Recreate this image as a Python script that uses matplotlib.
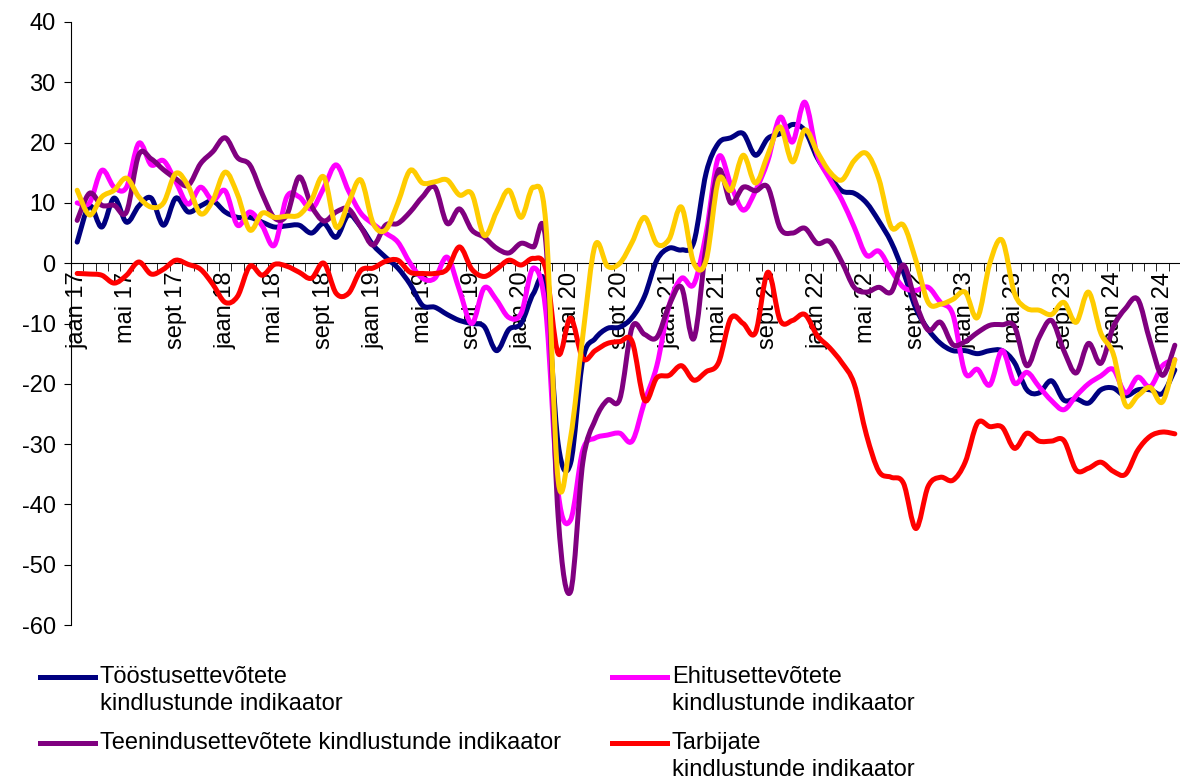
import numpy as np
import matplotlib
matplotlib.use("Agg")
import matplotlib.pyplot as plt
from matplotlib.lines import Line2D
from matplotlib.path import Path
from matplotlib.patches import PathPatch

plt.rcParams['font.family'] = ['Liberation Sans', 'DejaVu Sans']
plt.rcParams['axes.unicode_minus'] = False

# monthly values, jaan 17 .. juuni 24
toostus = [3.5, 9.5, 6.0, 10.8, 6.8, 9.5, 10.8, 6.3, 10.8, 8.5,
           9.5, 10.3, 8.5, 7.6, 7.6, 6.8, 6.0, 6.2, 6.3, 5.0,
           6.6, 4.3, 8.0, 6.0, 3.0, 1.0, -0.8, -3.5, -7.0, -7.3,
           -8.5, -9.5, -10.0, -10.5, -14.5, -11.0, -10.0, -5.0, -4.0, -30.0,
           -33.2, -16.0, -12.5, -10.8, -10.6, -9.0, -5.5, 0.5, 2.5, 2.2,
           3.5, 15.0, 19.9, 20.8, 21.5, 17.9, 20.7, 21.5, 23.0, 22.0,
           17.5, 14.5, 12.0, 11.6, 10.0, 7.0, 3.5, -1.5, -7.5, -11.0,
           -13.3, -14.5, -14.5, -15.0, -14.5, -14.5, -16.5, -21.0, -21.5, -19.5,
           -22.7, -22.5, -23.2, -21.0, -20.7, -22.0, -21.0, -21.0, -21.6, -17.7]

ehitus = [10.0, 10.0, 15.4, 12.6, 12.6, 19.9, 16.3, 17.0, 13.5, 9.8,
          12.6, 10.4, 12.0, 6.3, 8.5, 6.2, 3.0, 11.0, 11.0, 9.0,
          12.5, 16.3, 12.0, 8.3, 6.5, 5.0, 3.5, 0.0, -2.5, -2.5,
          1.0, -4.5, -10.0, -4.1, -6.1, -9.0, -8.3, -0.8, -8.0, -38.0,
          -42.6, -31.0, -29.0, -28.5, -28.2, -29.5, -23.0, -17.0, -7.0, -2.5,
          -3.5, 5.0, 17.6, 13.0, 8.8, 12.0, 17.0, 24.2, 20.1, 26.7,
          18.0, 14.0, 10.5, 6.0, 1.3, 2.0, -1.2, -4.0, -4.5, -4.0,
          -6.5, -8.5, -18.2, -17.6, -20.2, -14.5, -19.9, -18.1, -20.5, -22.8,
          -24.3, -22.0, -20.0, -18.7, -17.6, -21.5, -18.9, -20.5, -17.0, -16.0]

teenindus = [7.1, 11.6, 9.6, 9.6, 8.5, 18.0, 17.3, 15.5, 14.0, 12.9,
             16.5, 18.5, 20.8, 17.5, 16.3, 11.5, 7.5, 8.0, 14.3, 9.5,
             7.0, 8.5, 9.0, 6.0, 3.0, 6.3, 6.6, 8.5, 11.0, 12.6,
             6.6, 9.0, 5.5, 4.3, 2.5, 1.7, 3.3, 2.7, 3.5, -42.0,
             -54.5, -33.0, -26.0, -22.7, -22.5, -10.6, -11.8, -12.3, -7.0, -4.0,
             -12.5, 3.0, 15.4, 10.0, 12.6, 12.0, 12.6, 5.8, 5.0, 5.8,
             3.3, 3.6, 0.2, -4.0, -4.8, -4.0, -4.8, -0.3, -6.6, -11.1,
             -9.8, -13.5, -13.0, -11.5, -10.3, -10.2, -10.5, -17.0, -12.3, -9.5,
             -14.5, -18.2, -13.3, -16.6, -10.6, -7.5, -6.0, -13.0, -18.6, -13.6]

tarbijad = [-1.7, -1.8, -2.0, -3.3, -2.0, 0.2, -1.8, -1.0, 0.5, -0.2,
            -1.0, -3.5, -6.5, -5.5, -0.5, -2.0, -0.2, -0.5, -1.5, -2.5,
            0.0, -5.0, -5.0, -1.2, -0.8, 0.3, 0.5, -1.5, -1.7, -1.7,
            -1.0, 2.7, -1.0, -2.2, -1.0, 0.5, -0.3, 0.8, -1.0, -15.0,
            -9.1, -15.8, -14.5, -13.3, -13.0, -13.0, -22.7, -19.0, -18.6, -17.0,
            -19.4, -18.0, -16.5, -9.1, -10.0, -11.5, -1.5, -9.5, -9.5, -8.5,
            -12.0, -14.0, -16.5, -20.0, -28.5, -34.5, -35.5, -36.5, -44.0, -37.0,
            -35.5, -36.0, -33.0, -26.5, -27.1, -27.2, -30.7, -28.2, -29.5, -29.5,
            -29.4, -34.3, -34.0, -33.0, -34.5, -35.0, -31.0, -28.7, -28.0, -28.3]

kollane = [12.1, 8.0, 11.0, 12.1, 14.1, 11.0, 9.3, 10.0, 14.9, 12.8,
           8.2, 10.4, 15.1, 11.4, 5.5, 8.3, 7.6, 7.8, 8.0, 10.5,
           14.3, 6.0, 10.0, 13.8, 6.6, 5.5, 10.0, 15.4, 13.3, 13.5,
           13.8, 11.3, 11.5, 4.6, 8.5, 12.1, 7.6, 12.6, 6.6, -36.0,
           -29.0, -12.0, 3.0, -0.5, 0.0, 3.5, 7.6, 3.2, 4.0, 9.3,
           0.0, 0.5, 13.8, 12.1, 17.9, 13.3, 18.0, 22.6, 16.8, 22.1,
           18.5, 15.2, 13.8, 17.0, 18.2, 14.0, 6.0, 6.3, 0.5, -6.5,
           -6.8, -6.0, -4.8, -9.0, 0.0, 3.8, -5.0, -7.5, -7.8, -8.5,
           -6.5, -9.8, -4.8, -11.6, -15.0, -23.5, -22.0, -20.6, -23.0, -16.0]

tick_labels = ['jaan 17', 'mai 17', 'sept 17', 'jaan 18', 'mai 18', 'sept 18',
               'jaan 19', 'mai 19', 'sept 19', 'jaan 20', 'mai 20', 'sept 20',
               'jaan 21', 'mai 21', 'sept 21', 'jaan 22', 'mai 22', 'sept 22',
               'jaan 23', 'mai 23', 'sept 23', 'jaan 24', 'mai 24']

legend_labels = ['Tööstusettevõtete\nkindlustunde indikaator',
                 'Ehitusettevõtete\nkindlustunde indikaator',
                 'Teenindusettevõtete kindlustunde indikaator',
                 'Tarbijate\nkindlustunde indikaator']

series = [toostus, ehitus, teenindus, tarbijad, kollane]
colors = ['#000080', '#FF00FF', '#800080', '#FF0000', '#FFCC00']


def smooth_path(xs, ys):
    # smoothed line like Excel: cubic Bezier segments through every point
    p = np.column_stack([xs, ys]).astype(float)
    ext = np.vstack([p[0], p, p[-1]])
    verts = [p[0]]
    codes = [Path.MOVETO]
    for i in range(len(p) - 1):
        c1 = ext[i + 1] + (ext[i + 2] - ext[i]) / 6
        c2 = ext[i + 2] - (ext[i + 3] - ext[i + 1]) / 6
        verts += [c1, c2, p[i + 1]]
        codes += [Path.CURVE4] * 3
    return Path(verts, codes)


W, H = 1180, 782
fig = plt.figure(figsize=(W / 100, H / 100), dpi=100)
ax = fig.add_axes([71 / W, 157 / H, 1110 / W, 603 / H])

x = np.arange(len(toostus))
for vals, c in zip(series, colors):
    ax.add_patch(PathPatch(smooth_path(x, vals), fill=False, edgecolor=c,
                           lw=3.6, joinstyle='round', capstyle='round', zorder=3))

ax.set_xlim(-0.5, len(x) - 0.5)
ax.set_ylim(-60, 40)
ax.set_yticks(range(-60, 41, 10))
ax.spines['top'].set_visible(False)
ax.spines['right'].set_visible(False)
ax.spines['bottom'].set_position(('data', 0))

ax.set_xticks(np.arange(0, len(x), 4))
ax.set_xticklabels(tick_labels, rotation=90, fontsize=17)
ax.set_xticks(np.arange(-0.5, len(x), 1), minor=True)
ax.tick_params(axis='x', which='major', length=0, pad=6)
ax.tick_params(axis='x', which='minor', length=6, direction='out')
ax.tick_params(axis='y', length=5, labelsize=17, pad=6)

# legend, drawn by hand so the line sits next to the first text row
leg_pos = [(40, 677), (612, 677), (40, 743), (612, 743)]
for (px, py), lab, c in zip(leg_pos, legend_labels, colors[:4]):
    fig.add_artist(Line2D([px / W, (px + 55) / W], [1 - py / H, 1 - py / H],
                          color=c, lw=3.6, transform=fig.transFigure))
    fig.text((px + 60) / W, 1 - (py - 11) / H, lab, fontsize=17,
             va='top', ha='left', linespacing=1.3)

fig.savefig('out.png', dpi=100)
